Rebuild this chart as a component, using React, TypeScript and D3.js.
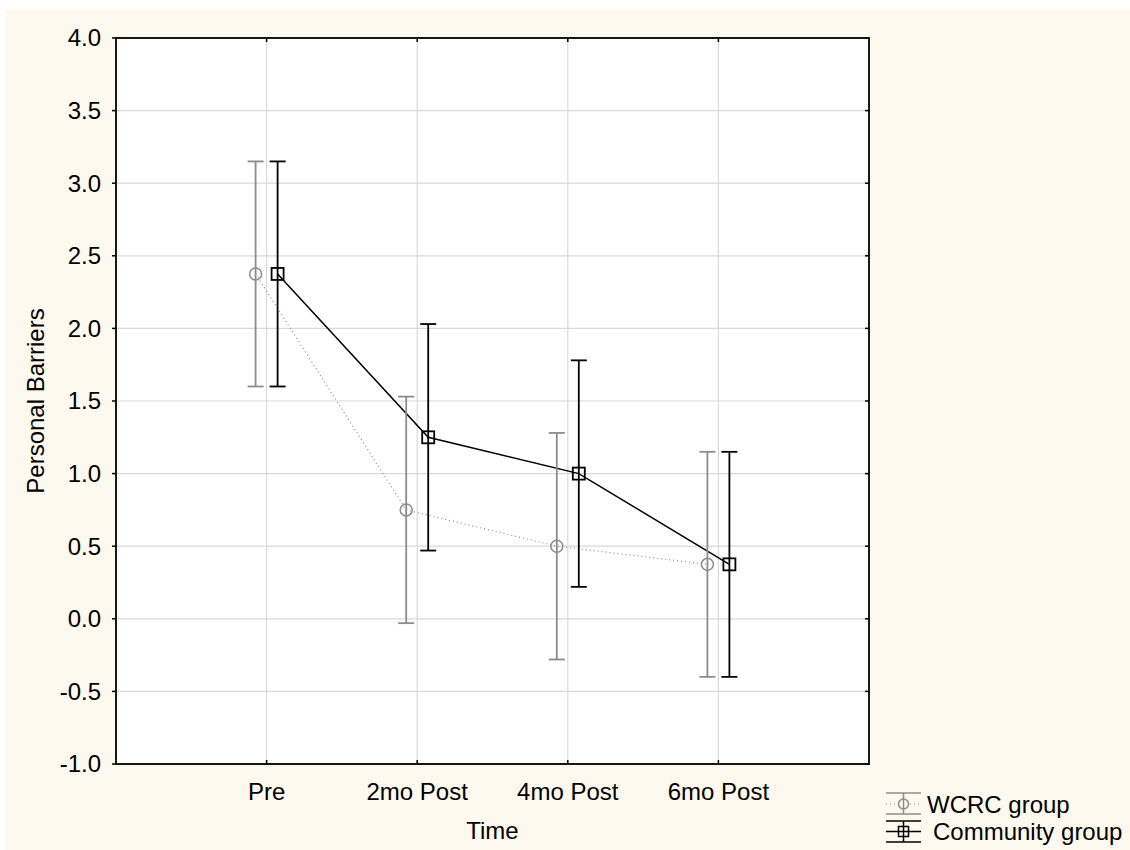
import React from "react";
import * as d3 from "d3";

const categories = ["Pre", "2mo Post", "4mo Post", "6mo Post"];
const wcrcMean = [2.375, 0.75, 0.5, 0.375];
const wcrcLow = [1.6, -0.03, -0.28, -0.4];
const wcrcHigh = [3.15, 1.53, 1.28, 1.15];
const commMean = [2.375, 1.25, 1.0, 0.375];
const commLow = [1.6, 0.47, 0.22, -0.4];
const commHigh = [3.15, 2.03, 1.78, 1.15];
const yTicks = [-1.0, -0.5, 0.0, 0.5, 1.0, 1.5, 2.0, 2.5, 3.0, 3.5, 4.0];

const W = 1130, H = 850;
const L = 116, R = 869, T = 38, B = 764;
const FONT = "'Liberation Sans', Arial, sans-serif";
const FS = 24;

export default function App() {
  const x = d3.scaleLinear().domain([0, categories.length + 1]).range([L, R]);
  const y = d3.scaleLinear().domain([-1, 4]).range([B, T]);
  const off = 11;
  const cap = 8;
  const gray = "#8c8c8c";

  const wPts = wcrcMean.map((v, i) => [x(i + 1) - off, y(v)] as [number, number]);
  const cPts = commMean.map((v, i) => [x(i + 1) + off, y(v)] as [number, number]);
  const line = d3.line();

  const series = [
    { pts: wPts, lo: wcrcLow, hi: wcrcHigh, color: gray, shape: "circle", dash: "1,3", lw: 1.2 },
    { pts: cPts, lo: commLow, hi: commHigh, color: "#000", shape: "square", dash: undefined, lw: 1.5 },
  ];

  return (
    <svg width={W} height={H} style={{ position: "absolute", left: 0, top: 0 }} fontFamily={FONT}>
      <rect x={5} y={9} width={W - 5} height={H - 9} fill="#fef9ee" />
      <rect x={L} y={T} width={R - L} height={B - T} fill="#fff" />
      {/* grid */}
      {yTicks.map((t) => (
        <line key={"gy" + t} x1={L} x2={R} y1={y(t)} y2={y(t)} stroke="#d9d9d9" strokeWidth={1.2} />
      ))}
      {categories.map((c, i) => (
        <line key={"gx" + c} x1={x(i + 1)} x2={x(i + 1)} y1={T} y2={B} stroke="#d9d9d9" strokeWidth={1.2} />
      ))}
      {/* series lines */}
      {series.map((s, k) => (
        <path key={"l" + k} d={line(s.pts) || ""} fill="none" stroke={s.color} strokeWidth={s.lw} strokeDasharray={s.dash} />
      ))}
      {/* error bars & markers */}
      {series.map((s, k) => (
        <g key={"e" + k} stroke={s.color} strokeWidth={1.8} fill="none">
          {s.pts.map((p, i) => (
            <g key={i}>
              <line x1={p[0]} x2={p[0]} y1={y(s.lo[i])} y2={y(s.hi[i])} />
              <line x1={p[0] - cap} x2={p[0] + cap} y1={y(s.lo[i])} y2={y(s.lo[i])} />
              <line x1={p[0] - cap} x2={p[0] + cap} y1={y(s.hi[i])} y2={y(s.hi[i])} />
              {s.shape === "circle" ? (
                <circle cx={p[0]} cy={p[1]} r={6} fill="none" strokeWidth={1.5} />
              ) : (
                <rect x={p[0] - 6} y={p[1] - 6} width={12} height={12} fill="none" strokeWidth={1.8} />
              )}
            </g>
          ))}
        </g>
      ))}
      {/* frame */}
      <rect x={L} y={T} width={R - L} height={B - T} fill="none" stroke="#000" strokeWidth={1.8} />
      {/* y ticks */}
      {yTicks.map((t) => (
        <g key={"yt" + t}>
          <line x1={L - 4} x2={L} y1={y(t)} y2={y(t)} stroke="#000" strokeWidth={1.5} />
          <line x1={R - 4} x2={R} y1={y(t)} y2={y(t)} stroke="#000" strokeWidth={1.5} />
          <text x={101} y={y(t)} dy="0.35em" textAnchor="end" fontSize={FS} fill="#000">
            {t.toFixed(1)}
          </text>
        </g>
      ))}
      {categories.map((c, i) => (
        <g key={"xt" + c}>
          <line x1={x(i + 1)} x2={x(i + 1)} y1={B} y2={B - 4} stroke="#000" strokeWidth={1.5} />
          <line x1={x(i + 1)} x2={x(i + 1)} y1={T} y2={T + 4} stroke="#000" strokeWidth={1.5} />
          <text x={x(i + 1)} y={800} textAnchor="middle" fontSize={FS} fill="#000">
            {c}
          </text>
        </g>
      ))}
      <text x={(L + R) / 2} y={839} textAnchor="middle" fontSize={FS} fill="#000">Time</text>
      <text transform={`translate(44,${(T + B) / 2}) rotate(-90)`} textAnchor="middle" fontSize={FS} fill="#000">
        Personal Barriers
      </text>
      {/* legend */}
      <g stroke={gray} fill="none">
        <line x1={886} x2={921} y1={793} y2={793} strokeWidth={1.5} />
        <line x1={886} x2={921} y1={814} y2={814} strokeWidth={1.5} />
        <line x1={903.5} x2={903.5} y1={793} y2={814} strokeWidth={1.5} />
        <line x1={886} x2={921} y1={804} y2={804} strokeWidth={1.2} strokeDasharray="1,3" />
        <circle cx={903.5} cy={804} r={5} strokeWidth={1.5} fill="#fef9ee" />
        <line x1={903.5} x2={903.5} y1={799} y2={809} strokeWidth={1.5} />
      </g>
      <text x={927} y={813} fontSize={FS} fill="#000">WCRC group</text>
      <g stroke="#000" fill="none">
        <line x1={886} x2={921} y1={821} y2={821} strokeWidth={1.5} />
        <line x1={886} x2={921} y1={842} y2={842} strokeWidth={1.5} />
        <line x1={903.5} x2={903.5} y1={821} y2={842} strokeWidth={1.5} />
        <line x1={886} x2={921} y1={831.5} y2={831.5} strokeWidth={1.5} />
        <rect x={898.5} y={826.5} width={10} height={10} strokeWidth={1.5} />
      </g>
      <text x={933} y={840} fontSize={FS} fill="#000">Community group</text>
    </svg>
  );
}
